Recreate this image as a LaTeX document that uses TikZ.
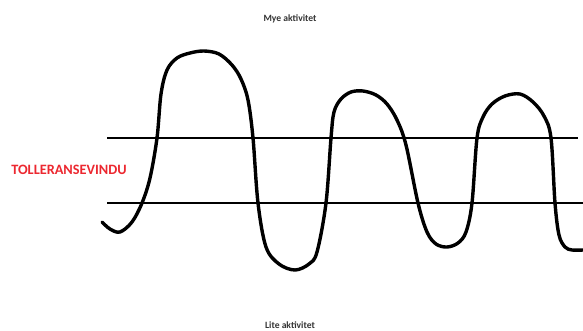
\documentclass[tikz,border=0pt]{standalone}
\usepackage{fontspec}
\setmainfont{Carlito}
\usepackage{tikz}
\usetikzlibrary{positioning}
\definecolor{tolRed}{RGB}{236,40,48}
\definecolor{waveInk}{RGB}{0,0,0}

\begin{document}
\begin{tikzpicture}[
  x=1pt, y=-1pt,
  levellabel/.style={font=\bfseries\fontsize{9.6}{11}\selectfont, text=black!80, inner sep=0pt},
  bandlabel/.style={font=\bfseries\fontsize{14.3}{16}\selectfont, text=tolRed, inner sep=0pt},
  bandline/.style={line width=2pt, black},
  waveline/.style={line width=3.4pt, waveInk, line cap=round, line join=round}
]
\useasboundingbox (0,0) rectangle (583,330);
%% Labels
\node[levellabel] (HIGH) at (290,19)  {Mye aktivitet};
\node[levellabel] (LOW)  at (290,325) {Lite aktivitet};
\node[bandlabel]  (BAND) at (69,170)  {TOLLERANSEVINDU};
%% Tolerance window
\coordinate (t1) at (107,138);
\coordinate (t2) at (578,138);
\coordinate (b1) at (107,203);
\coordinate (b2) at (583,203);
\draw[bandline] (t1) -- (t2);
\draw[bandline] (b1) -- (b2);
%% Activity wave
\draw[waveline] plot[smooth, tension=0.55] coordinates {
  (102,222) (110,229) (120,232) (132,222) (142,203) (150,178) (157,138)
  (161,94) (167,70) (177,58) (190,53) (204,51) (219,54) (232,65) (241,79)
  (248,100) (253,138) (258,203) (266,247) (279,264) (295,270) (309,264)
  (317,252) (326,203) (331,138) (334,112) (341,99) (351,92) (363,91)
  (376,95) (387,104) (397,120) (406,145) (418,203) (427,232) (436,244)
  (447,247) (458,243) (466,232) (472,203) (477,138) (483,117) (492,104)
  (505,96) (520,94) (533,102) (544,116) (551,138) (555,203)
  (559,235) (565,247) (572,250) (583,250)};
\end{tikzpicture}
\end{document}
